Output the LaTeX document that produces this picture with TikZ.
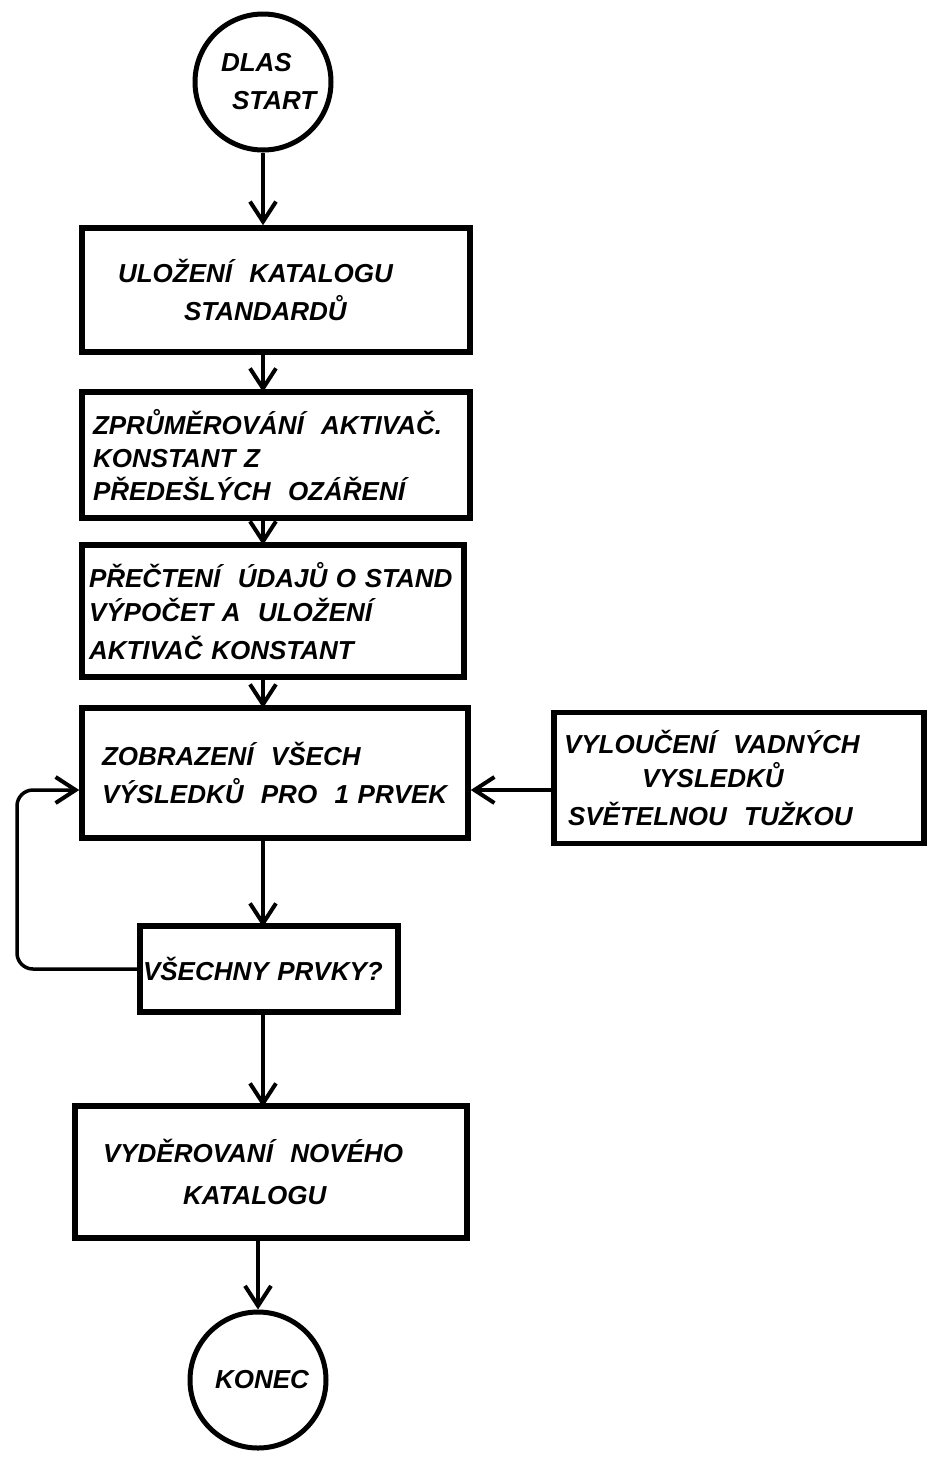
\documentclass[tikz,border=0pt]{standalone}
\usepackage{fontspec}
\setmainfont{Liberation Sans}
\usetikzlibrary{arrows.meta}

\begin{document}
\begin{tikzpicture}[x=1pt,y=-1pt,
    every node/.style={font=\fontsize{26}{38}\selectfont\bfseries\itshape},
    term/.style={circle,draw,line width=5pt,minimum size=136pt,inner sep=0pt,text width=100pt,align=left},
    box/.style={rectangle,draw,line width=5.5pt,align=left,inner sep=0pt},
    arr/.style={line width=3.5pt,-{Straight Barb[length=20pt,width=26pt,line width=4pt]}}]
\useasboundingbox (0,0) rectangle (927,1460);

\node [term] (start) at (263,82) {\hspace*{8pt}DLAS\\\hspace*{19pt}START};
\node [box,minimum width=388pt,minimum height=124pt,text width=364pt] (store) at (276,290)
    {\hspace*{24pt}ULOŽENÍ \ KATALOGU\\\hspace*{90pt}STANDARDŮ};
\node [box,minimum width=388pt,minimum height=126pt,text width=366pt] (avg) at (276,455)
    {ZPRŮMĚROVÁNÍ \ AKTIVAČ.\\[-5pt]KONSTANT Z\\[-5pt]PŘEDEŠLÝCH \ OZÁŘENÍ};
\node [box,minimum width=382pt,minimum height=132pt,text width=368pt] (read) at (273,611)
    {PŘEČTENÍ \ ÚDAJŮ O STAND\\[-4pt]VÝPOČET A \ ULOŽENÍ\\AKTIVAČ KONSTANT};
\node [box,minimum width=386pt,minimum height=130pt,text width=346pt] (show) at (275,773)
    {ZOBRAZENÍ \ VŠECH\\VÝSLEDKŮ \ PRO \ 1 PRVEK};
\node [box,minimum width=370pt,minimum height=131pt,text width=350pt] (reject) at (739,778)
    {VYLOUČENÍ \ VADNÝCH\\[-4pt]\hspace*{78pt}VYSLEDKŮ\\\hspace*{4pt}SVĚTELNOU \ TUŽKOU};
\node [box,minimum width=258pt,minimum height=86pt,text width=252pt] (all) at (269,969)
    {VŠECHNY PRVKY?};
\node [box,minimum width=392pt,minimum height=132pt,text width=364pt] (newcat) at (271,1172)
    {\hspace*{14pt}VYDĚROVANÍ \ NOVÉHO\\[4pt]\hspace*{94pt}KATALOGU};
\node [term] (end) at (258,1380) {\hspace*{7pt}KONEC};

\coordinate (loopin) at (show.west |- 0,790);
\coordinate (sidein) at (show.east |- 0,790);
\coordinate (sideout) at (reject.west |- 0,790);

% hlavni tok
\draw [arr] (start.south) -- (start.south |- store.north);
\draw [arr] (263,352) -- (263,392);
\draw [arr] (263,518) -- (263,545);
\draw [arr] (263,677) -- (263,708);
\draw [arr] (263,838) -- (263,927);
\draw [arr] (263,1012) -- (263,1107);
\draw [arr] (258,1238) -- (end.north);

% smycka
\draw [arr,rounded corners=16pt] (all.west) -| (17,790) -- (loopin);
\draw [arr] (sideout) -- (sidein);
\end{tikzpicture}
\end{document}
